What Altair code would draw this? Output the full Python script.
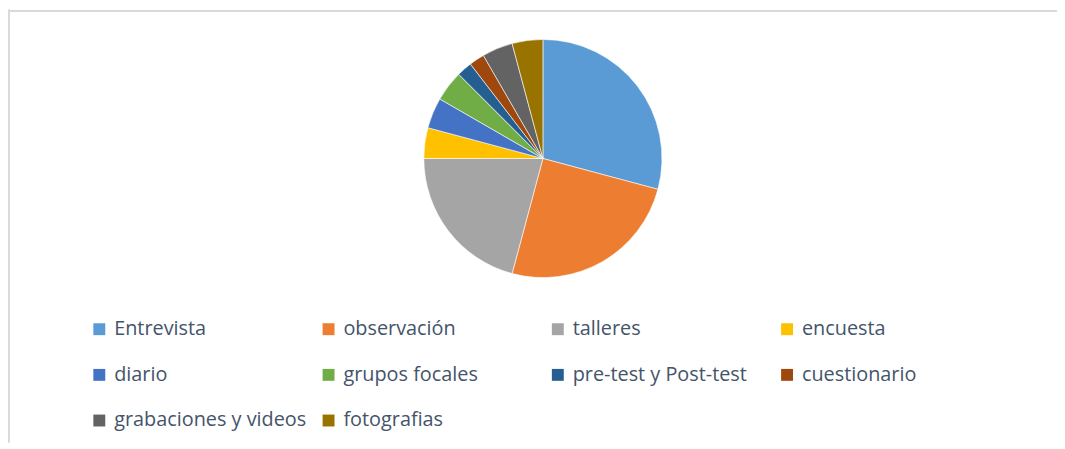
import altair as alt
import pandas as pd

categories = ["Entrevista", "observación", "talleres", "encuesta", "diario",
              "grupos focales", "pre-test y Post-test", "cuestionario",
              "grabaciones y videos", "fotografias"]
values = [14, 12, 10, 2, 2, 2, 1, 1, 2, 2]
colors = ["#5B9BD5", "#ED7D31", "#A5A5A5", "#FFC000", "#4472C4",
          "#70AD47", "#255E91", "#9E480E", "#636363", "#997300"]

df = pd.DataFrame({"cat": categories, "val": values, "order": list(range(len(categories)))})

W, H = 1057, 436

pie = alt.Chart(df).mark_arc(outerRadius=120, stroke="white", strokeWidth=0.6).encode(
    theta=alt.Theta("val:Q", stack=True),
    order=alt.Order("order:Q"),
    x=alt.value(539),
    y=alt.value(150),
    color=alt.Color(
        "cat:N",
        scale=alt.Scale(domain=categories, range=colors),
        legend=alt.Legend(
            title=None, orient="none", direction="horizontal",
            legendX=82, legendY=312, columns=4,
            gridAlign="all", symbolType="square", symbolSize=144,
            symbolStrokeWidth=0, labelFont="Open Sans", labelFontSize=20,
            labelColor="#44546A", labelOffset=5, columnPadding=12,
            rowPadding=26, padding=0, labelLimit=400,
        ),
    ),
)

left = alt.Chart(df).mark_rule(color="#D9D9D9", strokeWidth=1.5).encode(
    x=alt.value(0.5), y=alt.value(0), y2=alt.value(H)
)
top = alt.Chart(df).mark_rule(color="#D9D9D9", strokeWidth=1.5).encode(
    x=alt.value(0), x2=alt.value(W), y=alt.value(1)
)

chart = alt.layer(left, top, pie).properties(
    width=W, height=H, padding=0, autosize=alt.AutoSizeParams(type="none")
).configure_view(stroke=None)

chart.save("out.html", embed_options={"renderer": "svg", "actions": False})
